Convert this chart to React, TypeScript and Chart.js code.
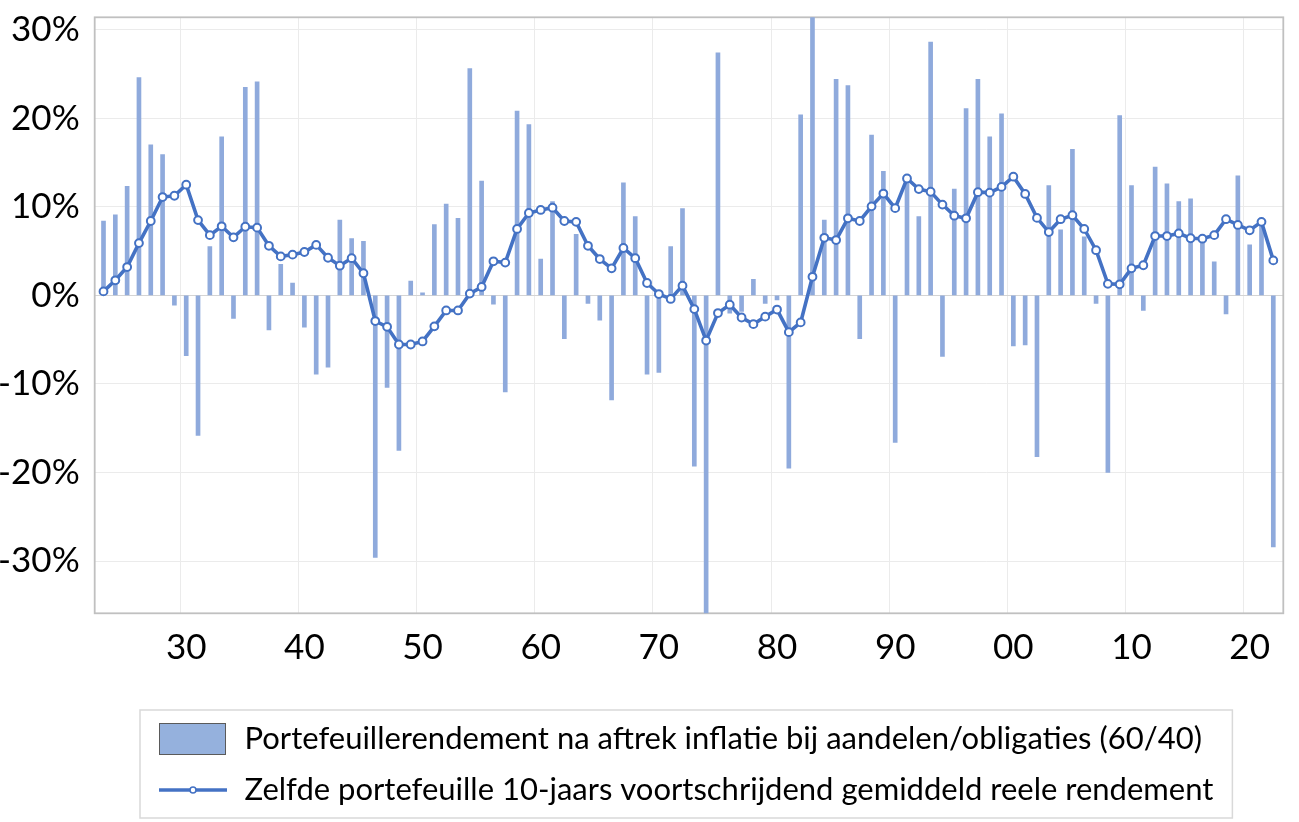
import React, { useEffect, useRef } from 'react';
import { Chart, registerables } from 'chart.js';

Chart.register(...registerables);

const YEARS: number[] = [
  1923, 1924, 1925, 1926, 1927, 1928, 1929, 1930, 1931, 1932,
  1933, 1934, 1935, 1936, 1937, 1938, 1939, 1940, 1941, 1942,
  1943, 1944, 1945, 1946, 1947, 1948, 1949, 1950, 1951, 1952,
  1953, 1954, 1955, 1956, 1957, 1958, 1959, 1960, 1961, 1962,
  1963, 1964, 1965, 1966, 1967, 1968, 1969, 1970, 1971, 1972,
  1973, 1974, 1975, 1976, 1977, 1978, 1979, 1980, 1981, 1982,
  1983, 1984, 1985, 1986, 1987, 1988, 1989, 1990, 1991, 1992,
  1993, 1994, 1995, 1996, 1997, 1998, 1999, 2000, 2001, 2002,
  2003, 2004, 2005, 2006, 2007, 2008, 2009, 2010, 2011, 2012,
  2013, 2014, 2015, 2016, 2017, 2018, 2019, 2020, 2021, 2022,
];

// Annual real portfolio return (60/40), %
const BAR_VALUES: number[] = [
  8.4, 9.1, 12.3, 24.6, 17.0, 15.9, -1.1, -6.8, -15.8, 5.5,
  17.9, -2.6, 23.5, 24.1, -3.9, 3.5, 1.4, -3.6, -8.9, -8.1,
  8.5, 6.4, 6.1, -29.6, -10.4, -17.5, 1.6, 0.3, 8.0, 10.3,
  8.7, 25.6, 12.9, -1.0, -10.9, 20.8, 19.3, 4.1, 10.6, -4.9,
  6.9, -0.9, -2.8, -11.8, 12.7, 8.9, -8.9, -8.7, 5.5, 9.8,
  -19.3, -38.0, 27.4, -2.0, -1.8, 1.8, -0.9, -0.5, -19.5, 20.4,
  32.5, 8.5, 24.4, 23.7, -4.9, 18.1, 14.0, -16.6, 13.0, 8.9,
  28.6, -6.9, 12.0, 21.1, 24.4, 17.9, 20.5, -5.7, -5.6, -18.2,
  12.4, 7.4, 16.5, 6.6, -0.9, -20.0, 20.3, 12.4, -1.7, 14.5,
  12.6, 10.6, 10.9, 6.4, 3.8, -2.1, 13.5, 5.7, 8.2, -28.4,
];

// 10-year rolling average real return, %
const LINE_VALUES: number[] = [
  0.45, 1.7, 3.2, 5.9, 8.4, 11.1, 11.25, 12.5, 8.5, 6.8,
  7.8, 6.55, 7.75, 7.65, 5.6, 4.4, 4.6, 4.9, 5.7, 4.25,
  3.35, 4.2, 2.5, -2.9, -3.55, -5.55, -5.55, -5.2, -3.5, -1.7,
  -1.7, 0.2, 0.95, 3.85, 3.7, 7.5, 9.3, 9.65, 9.9, 8.4,
  8.3, 5.6, 4.1, 3.05, 5.35, 4.2, 1.4, 0.15, -0.4, 1.1,
  -1.55, -5.1, -2.0, -1.05, -2.5, -3.25, -2.4, -1.6, -4.15, -3.05,
  2.1, 6.5, 6.25, 8.7, 8.4, 10.05, 11.5, 9.85, 13.2, 12.0,
  11.7, 10.25, 9.0, 8.7, 11.65, 11.6, 12.25, 13.4, 11.45, 8.75,
  7.15, 8.6, 9.05, 7.5, 5.1, 1.3, 1.25, 3.05, 3.4, 6.7,
  6.7, 7.0, 6.45, 6.4, 6.8, 8.6, 7.95, 7.35, 8.3, 3.95,
];

const X_TICK_YEARS: number[] = [1930, 1940, 1950, 1960, 1970, 1980, 1990, 2000, 2010, 2020];
const X_TICK_LABELS: string[] = ['30', '40', '50', '60', '70', '80', '90', '00', '10', '20'];
const Y_TICKS: number[] = [-30, -20, -10, 0, 10, 20, 30];

const BAR_LABEL = 'Portefeuillerendement na aftrek inflatie bij aandelen/obligaties (60/40)';
const LINE_LABEL = 'Zelfde portefeuille 10-jaars voortschrijdend gemiddeld reele rendement';

const BAR_COLOR = '#8FAADC';
const LINE_COLOR = '#4472C4';
const GRID_COLOR = '#ebebeb';
const FONT = 'Lato';

const TICK_FS = 35;
const LEG_FS = 31;
const LEG_ROW = 51;
const LEG_PAD = LEG_ROW - LEG_FS;

export default function App() {
  const ref = useRef<HTMLCanvasElement | null>(null);

  useEffect(() => {
    const canvas = ref.current;
    if (!canvas) return;

    const barIcon = document.createElement('canvas');
    barIcon.width = 70;
    barIcon.height = 34;
    const bctx = barIcon.getContext('2d')!;
    bctx.fillStyle = '#95B1DD';
    bctx.fillRect(0.5, 1.5, 66, 31);
    bctx.strokeStyle = '#5a5a5a';
    bctx.lineWidth = 1;
    bctx.strokeRect(0.5, 1.5, 66, 31);

    const lineIcon = document.createElement('canvas');
    lineIcon.width = 70;
    lineIcon.height = 14;
    const lctx = lineIcon.getContext('2d')!;
    lctx.strokeStyle = LINE_COLOR;
    lctx.lineWidth = 3.5;
    lctx.beginPath();
    lctx.moveTo(0, 7);
    lctx.lineTo(68, 7);
    lctx.stroke();
    lctx.beginPath();
    lctx.arc(34, 7, 3, 0, Math.PI * 2);
    lctx.fillStyle = '#fff';
    lctx.fill();
    lctx.lineWidth = 1.6;
    lctx.stroke();

    const xMin = 1922.255;
    const xMax = 2022.846;

    const noPad = (ax: any) => {
      ax.paddingTop = 0;
      ax.paddingBottom = 0;
      ax.paddingLeft = 0;
      ax.paddingRight = 0;
    };

    const deco = {
      id: 'deco',
      afterLayout(chart: any) {
        const lg = chart.legend;
        if (lg) lg.left = chart.chartArea.left + 64.3 - LEG_PAD;
      },
      beforeDatasetsDraw(chart: any) {
        const { ctx, chartArea: a } = chart;
        ctx.save();
        ctx.strokeStyle = '#c0c0c0';
        ctx.lineWidth = 1.8;
        ctx.strokeRect(a.left, a.top, a.right - a.left, a.bottom - a.top);
        ctx.restore();
      },
      afterDraw(chart: any) {
        const hb = chart.legend?.legendHitBoxes;
        if (!hb || !hb.length) return;
        const { ctx } = chart;
        const l = Math.min(...hb.map((h: any) => h.left)) - 19;
        const r = Math.max(...hb.map((h: any) => h.left + h.width)) + 19;
        const c1 = hb[0].top + hb[0].height / 2;
        const c2 = hb[hb.length - 1].top + hb[hb.length - 1].height / 2;
        ctx.save();
        ctx.strokeStyle = '#d9d9d9';
        ctx.lineWidth = 1.5;
        ctx.strokeRect(l, c1 - 29, r - l, c2 + 28 - (c1 - 29));
        ctx.restore();
      },
    };

    Chart.defaults.font.family = FONT;

    const legendTop = 739 - LEG_FS / 2 - LEG_PAD;
    const legendH = 2 * LEG_ROW + 10;
    const bottomPad = 822 - (legendTop + legendH);
    const xAxisH = legendTop - 613.3;

    const chart = new Chart(canvas, {
      type: 'bar',
      data: {
        datasets: [
          {
            type: 'bar',
            label: BAR_LABEL,
            data: YEARS.map((y, i) => ({ x: y, y: BAR_VALUES[i] })),
            backgroundColor: BAR_COLOR,
            barThickness: 4,
            order: 2,
            clip: 0,
            xAxisID: 'x',
            yAxisID: 'y',
          } as any,
          {
            type: 'line',
            label: LINE_LABEL,
            data: YEARS.map((y, i) => ({ x: y, y: LINE_VALUES[i] })),
            borderColor: LINE_COLOR,
            borderWidth: 3.6,
            pointRadius: 3.9,
            pointBorderWidth: 2,
            pointBackgroundColor: '#ffffff',
            pointBorderColor: LINE_COLOR,
            tension: 0,
            order: 1,
            xAxisID: 'x',
            yAxisID: 'y',
          } as any,
        ],
      },
      options: {
        animation: false,
        responsive: false,
        events: [],
        layout: {
          autoPadding: false,
          padding: { top: 17.3, right: 15.7, left: 0, bottom: bottomPad },
        } as any,
        scales: {
          x: {
            type: 'linear',
            position: 'bottom',
            offset: false,
            min: xMin,
            max: xMax,
            afterBuildTicks: (ax: any) => {
              ax.ticks = X_TICK_YEARS.map((v) => ({ value: v }));
            },
            afterFit: (ax: any) => {
              ax.height = xAxisH;
              noPad(ax);
            },
            ticks: {
              autoSkip: false,
              maxRotation: 0,
              padding: 13,
              color: '#000',
              font: { size: TICK_FS },
              callback: (v: any) => {
                const k = X_TICK_YEARS.indexOf(Number(v));
                return k >= 0 ? X_TICK_LABELS[k] : '';
              },
            },
            grid: { display: false, drawTicks: false, offset: false },
            border: { display: false },
          },
          xg: {
            type: 'linear',
            position: 'bottom',
            offset: false,
            min: xMin,
            max: xMax,
            afterBuildTicks: (ax: any) => {
              ax.ticks = X_TICK_YEARS.map((v) => ({ value: v - 0.5 }));
            },
            afterFit: (ax: any) => {
              ax.height = 0;
              noPad(ax);
            },
            ticks: { display: false },
            grid: { color: GRID_COLOR, drawTicks: false, lineWidth: 1, offset: false },
            border: { display: false },
          },
          y: {
            type: 'linear',
            min: -35.9,
            max: 31.4,
            afterBuildTicks: (ax: any) => {
              ax.ticks = Y_TICKS.map((v) => ({ value: v }));
            },
            afterFit: (ax: any) => {
              ax.width = 94.7;
              noPad(ax);
            },
            ticks: {
              padding: 15,
              color: '#000',
              font: { size: TICK_FS },
              callback: (v: any) => `${v}%`,
            },
            grid: {
              drawTicks: false,
              color: (c: any) => (c.tick && c.tick.value === 0 ? '#d4d4d4' : GRID_COLOR),
            },
            border: { display: false },
          },
        } as any,
        plugins: {
          tooltip: { enabled: false },
          legend: {
            position: 'bottom',
            align: 'start',
            labels: {
              usePointStyle: true,
              pointStyleWidth: 70,
              boxHeight: LEG_FS,
              padding: LEG_PAD,
              color: '#000',
              font: { size: LEG_FS },
              generateLabels: () => [
                {
                  text: BAR_LABEL,
                  pointStyle: barIcon,
                  datasetIndex: 0,
                  hidden: false,
                  fillStyle: BAR_COLOR,
                  strokeStyle: '#5a5a5a',
                  lineWidth: 1,
                } as any,
                {
                  text: LINE_LABEL,
                  pointStyle: lineIcon,
                  datasetIndex: 1,
                  hidden: false,
                  fillStyle: '#fff',
                  strokeStyle: LINE_COLOR,
                  lineWidth: 1,
                } as any,
              ],
            },
          } as any,
        },
      },
      plugins: [deco],
    });

    return () => {
      chart.destroy();
    };
  }, []);

  return (
    <div
      style={{
        position: 'fixed',
        left: 0,
        top: 0,
        width: 1299,
        height: 822,
        background: '#ffffff',
      }}
    >
      <canvas ref={ref} width={1299} height={822} style={{ display: 'block' }} />
    </div>
  );
}
